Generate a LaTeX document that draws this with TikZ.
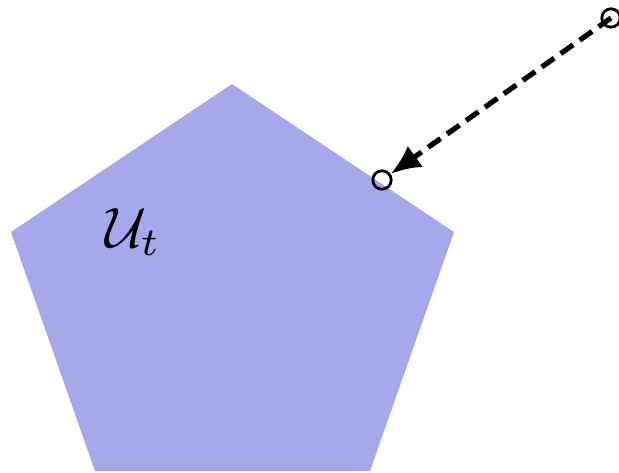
\documentclass[tikz,border=0pt]{standalone}
\usetikzlibrary{arrows.meta}
\definecolor{setfill}{RGB}{165,168,234}
\tikzset{
  pt/.style={circle, draw=black, line width=0.7pt, minimum size=4.6pt, inner sep=0pt},
  conn/.style={line width=1.3pt, dash pattern=on 3.8pt off 2pt, -{Latex[length=7.5pt,width=6.5pt]}}
}
\begin{document}
\begin{tikzpicture}[x=0.25pt,y=-0.25pt]
\useasboundingbox (0,0) rectangle (619,472);
\fill[setfill] (232,84) -- (454,232) -- (370,471) -- (95,471) -- (11,232) -- cycle;
\node[inner sep=0pt, scale=1.42] (lab) at (133,232) {$\mathcal{U}_t$};
\node[pt] (p1) at (382,180) {};
\node[pt] (p2) at (611,18) {};
\draw[conn] (p2.center) -- (p1);
\end{tikzpicture}
\end{document}
